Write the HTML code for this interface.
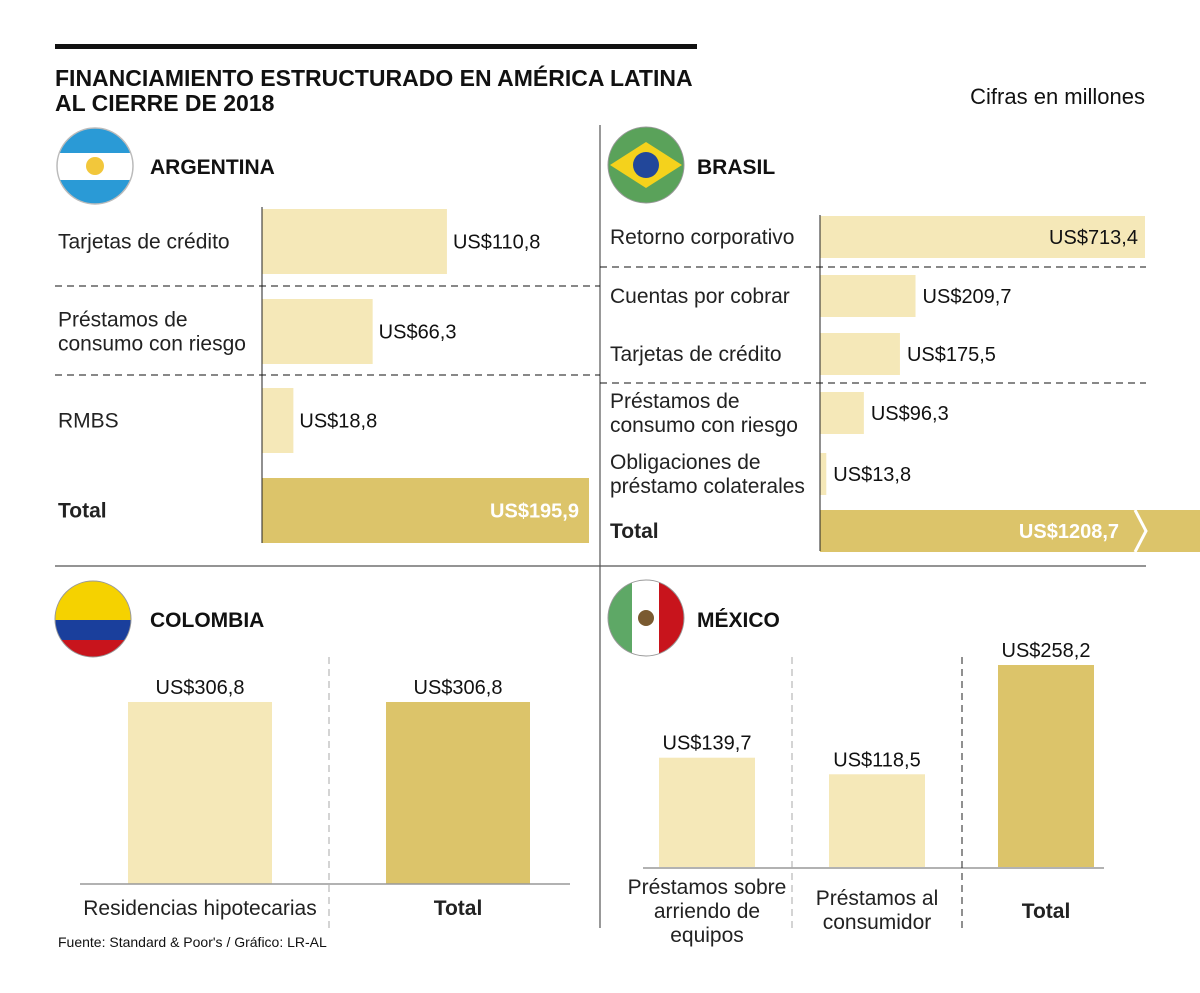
<!DOCTYPE html>
<html><head><meta charset="utf-8"><style>
body{margin:0;background:#fff}
svg{display:block;font-family:"Liberation Sans",sans-serif}
.lbl{font-size:21px;fill:#222}
.val{font-size:20px;fill:#111}
.b{font-weight:bold}
</style></head><body>
<svg id="c" width="1200" height="993" viewBox="0 0 1200 993">
<rect x="55" y="44" width="642" height="5" fill="#111"/>
<text x="55" y="86" font-size="23" font-weight="bold" fill="#111">FINANCIAMIENTO ESTRUCTURADO EN AMÉRICA LATINA</text>
<text x="55" y="111" font-size="23" font-weight="bold" fill="#111">AL CIERRE DE 2018</text>
<text x="1145" y="104" font-size="22" fill="#111" text-anchor="end">Cifras en millones</text>
<line x1="600" y1="125" x2="600" y2="928" stroke="#555" stroke-width="1.2"/>
<line x1="55" y1="566" x2="1146" y2="566" stroke="#555" stroke-width="1.2"/>

<g>
<clipPath id="ca"><circle cx="95" cy="166" r="38"/></clipPath>
<g clip-path="url(#ca)"><rect x="55" y="126" width="80" height="80" fill="#2a9ad6"/><rect x="55" y="153" width="80" height="27" fill="#fff"/><circle cx="95" cy="166" r="9" fill="#f2c73b"/></g>
<circle cx="95" cy="166" r="38" fill="none" stroke="#bbb" stroke-width="1.5"/></g>
<text x="150" y="174" font-size="21" font-weight="bold" fill="#111">ARGENTINA</text>
<g>
<circle cx="646" cy="165" r="38" fill="#5aa25a" stroke="#999"/>
<polygon points="610,165 646,142 682,165 646,188" fill="#f4d21c"/><circle cx="646" cy="165" r="13" fill="#22479a"/></g>
<text x="697" y="174" font-size="21" font-weight="bold" fill="#111">BRASIL</text>
<g>
<clipPath id="cc"><circle cx="93" cy="619" r="38"/></clipPath>
<g clip-path="url(#cc)"><rect x="53" y="579" width="80" height="42" fill="#f5d200"/><rect x="53" y="620" width="80" height="20" fill="#1a3f9c"/><rect x="53" y="640" width="80" height="20" fill="#c8141c"/></g>
<circle cx="93" cy="619" r="38" fill="none" stroke="#999"/></g>
<text x="150" y="627" font-size="21" font-weight="bold" fill="#111">COLOMBIA</text>
<g>
<clipPath id="cm"><circle cx="646" cy="618" r="38"/></clipPath>
<g clip-path="url(#cm)"><rect x="606" y="578" width="27" height="80" fill="#5ea866"/><rect x="632" y="578" width="28" height="80" fill="#fff"/><rect x="659" y="578" width="30" height="80" fill="#c8141c"/><circle cx="646" cy="618" r="8" fill="#7a5a30"/></g>
<circle cx="646" cy="618" r="38" fill="none" stroke="#999"/></g>
<text x="697" y="627" font-size="21" font-weight="bold" fill="#111">MÉXICO</text>
<text x="58" y="947" font-size="14" fill="#111">Fuente: Standard &amp; Poor's / Gráfico: LR-AL</text>
<g id="g"></g>
</svg>
<script>
const arCats=["Tarjetas de crédito","Préstamos de|consumo con riesgo","RMBS","Total"];
const arVals=[110.8,66.3,18.8,195.9];
const brCats=["Retorno corporativo","Cuentas por cobrar","Tarjetas de crédito","Préstamos de|consumo con riesgo","Obligaciones de|préstamo colaterales","Total"];
const brVals=[713.4,209.7,175.5,96.3,13.8,1208.7];
const coCats=["Residencias hipotecarias","Total"];
const coVals=[306.8,306.8];
const mxCats=["Préstamos sobre|arriendo de|equipos","Préstamos al|consumidor","Total"];
const mxVals=[139.7,118.5,258.2];
const fmt=v=>"US$"+v.toFixed(1).replace(".",",");
const NS="http://www.w3.org/2000/svg",G=document.getElementById("g");
function el(t,a,txt){const e=document.createElementNS(NS,t);for(const k in a)e.setAttribute(k,a[k]);if(txt!==undefined)e.textContent=txt;G.appendChild(e);return e;}
const L="#f5e8b8",T="#dcc46a";
function lines(x,y,s,cls,anchor,lh){const p=s.split("|");const y0=y-(p.length-1)*lh/2;return p.map((t,i)=>el("text",{x:x,y:y0+i*lh+7,class:cls,"text-anchor":anchor||"start"},t));}
// Argentina
const aX=v=>262+v*(327/195.9);const aY=[209,299,388,478],aH=65;
arCats.forEach((c,i)=>{const tot=i===arCats.length-1;
const r=el("rect",{x:262,y:aY[i],width:aX(arVals[i])-262,height:aH,fill:tot?T:L});


const ls=lines(58,aY[i]+aH/2,c,tot?"lbl b":"lbl","start",24);
ls.forEach(l=>{});
const v=el("text",tot?{x:aX(arVals[i])-10,y:aY[i]+aH/2+7,class:"val b","text-anchor":"end",style:"fill:#fff"}:{x:aX(arVals[i])+6,y:aY[i]+aH/2+7,class:"val"},fmt(arVals[i]));

});
el("line",{x1:262,y1:207,x2:262,y2:543,stroke:"#222","stroke-width":1});
[286,375].forEach(y=>el("line",{x1:55,y1:y,x2:600,y2:y,stroke:"#111","stroke-dasharray":"7,5"}));
// Brasil
const bX=v=>820+v*(325/713.4);const bY=[216,275,333,392,453,510],bH=42;
brCats.forEach((c,i)=>{const tot=i===brCats.length-1;const w=Math.min(bX(brVals[i]),1200)-820;
const r=el("rect",{x:820,y:bY[i],width:w,height:bH,fill:tot?T:L});


const ls=lines(610,bY[i]+bH/2,c,tot?"lbl b":"lbl","start",24);
ls.forEach(l=>{});
let v;
if(tot){v=el("text",{x:1119,y:bY[i]+bH/2+7,class:"val b","text-anchor":"end",style:"fill:#fff"},fmt(brVals[i]));
el("polyline",{points:(1135)+","+bY[i]+" "+(1146)+","+(bY[i]+bH/2)+" "+1135+","+(bY[i]+bH),fill:"none",stroke:"#fff","stroke-width":3});}
else if(bX(brVals[i])>1050){v=el("text",{x:bX(brVals[i])-7,y:bY[i]+bH/2+7,class:"val","text-anchor":"end"},fmt(brVals[i]));}
else{v=el("text",{x:bX(brVals[i])+7,y:bY[i]+bH/2+7,class:"val"},fmt(brVals[i]));}

});
el("line",{x1:820,y1:215,x2:820,y2:551,stroke:"#222","stroke-width":1});
[267,383].forEach(y=>el("line",{x1:600,y1:y,x2:1146,y2:y,stroke:"#111","stroke-dasharray":"7,5"}));
// Colombia
const cBase=884,cY=v=>cBase-v*(182/306.8),cX=[128,386],cW=144;
coCats.forEach((c,i)=>{const tot=i===coCats.length-1;
const r=el("rect",{x:cX[i],y:cY(coVals[i]),width:cW,height:cBase-cY(coVals[i]),fill:tot?T:L});


const v=el("text",{x:cX[i]+cW/2,y:cY(coVals[i])-8,class:"val","text-anchor":"middle"},fmt(coVals[i]));


const ls=lines(cX[i]+cW/2,908,c,tot?"lbl b":"lbl","middle",24);
ls.forEach(l=>{});});
el("line",{x1:80,y1:cBase,x2:570,y2:cBase,stroke:"#999","stroke-width":1.5});
el("line",{x1:329,y1:657,x2:329,y2:928,stroke:"#aaa","stroke-dasharray":"7,5"});
// Mexico
const mBase=867,mY=v=>mBase-v*(202/258.2),mX=[659,829,998],mW=96;
mxCats.forEach((c,i)=>{const tot=i===mxCats.length-1;
const r=el("rect",{x:mX[i],y:mY(mxVals[i]),width:mW,height:mBase-mY(mxVals[i]),fill:tot?T:L});


const v=el("text",{x:mX[i]+mW/2,y:mY(mxVals[i])-8,class:"val","text-anchor":"middle"},fmt(mxVals[i]));


const ls=lines(mX[i]+mW/2,[911,910,911][i],c,tot?"lbl b":"lbl","middle",24);
ls.forEach(l=>{});});
el("line",{x1:643,y1:mBase+1,x2:1104,y2:mBase+1,stroke:"#999","stroke-width":1.5});
el("line",{x1:792,y1:657,x2:792,y2:928,stroke:"#aaa","stroke-dasharray":"7,5"});
el("line",{x1:962,y1:657,x2:962,y2:928,stroke:"#222","stroke-dasharray":"7,5"});
</script>
</body></html>
